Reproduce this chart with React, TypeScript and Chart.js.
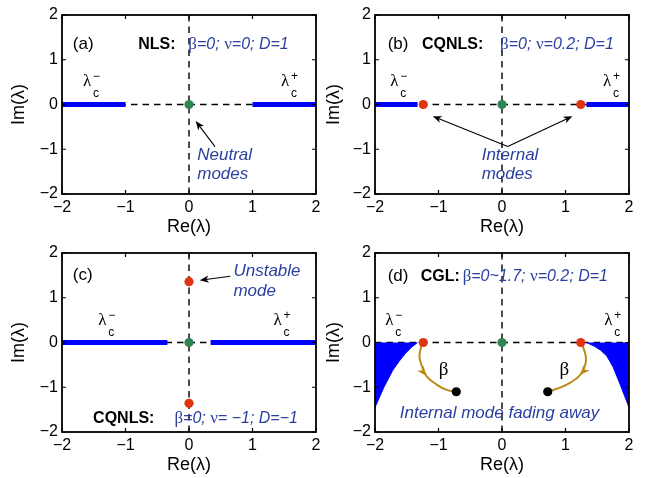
import React, { useEffect, useRef } from 'react';
import { Chart, registerables } from 'chart.js';
Chart.register(...registerables);

type P = { x: number; y: number };

// ---------- data ----------
const tickValues = [-2, -1, 0, 1, 2];
const hAxis: P[] = [{ x: -2, y: 0 }, { x: 2, y: 0 }];
const vAxis: P[] = [{ x: 0, y: -2 }, { x: 0, y: 2 }];

// (a) NLS
const aContLeft: P[] = [{ x: -2, y: 0 }, { x: -1, y: 0 }];
const aContRight: P[] = [{ x: 1, y: 0 }, { x: 2, y: 0 }];
const aNeutral: P[] = [{ x: 0, y: 0 }];

// (b) CQNLS
const bContLeft: P[] = [{ x: -2, y: 0 }, { x: -1.33, y: 0 }];
const bContRight: P[] = [{ x: 1.33, y: 0 }, { x: 2, y: 0 }];
const bInternal: P[] = [{ x: -1.24, y: 0 }, { x: 1.24, y: 0 }];
const bNeutral: P[] = [{ x: 0, y: 0 }];

// (c) CQNLS, D = -1
const cContLeft: P[] = [{ x: -2, y: 0 }, { x: -0.34, y: 0 }];
const cContRight: P[] = [{ x: 0.34, y: 0 }, { x: 2, y: 0 }];
const cUnstable: P[] = [{ x: 0, y: 1.36 }, { x: 0, y: -1.36 }];
const cNeutral: P[] = [{ x: 0, y: 0 }];

// (d) CGL
const dContLeft: P[] = [
  { x: -2, y: -1.45 }, { x: -1.86, y: -1.0 }, { x: -1.72, y: -0.62 }, { x: -1.62, y: -0.42 },
  { x: -1.52, y: -0.24 }, { x: -1.42, y: -0.1 }, { x: -1.33, y: 0 },
];
const dContRight: P[] = [
  { x: 1.33, y: 0 }, { x: 1.45, y: -0.08 }, { x: 1.55, y: -0.17 }, { x: 1.65, y: -0.3 },
  { x: 1.75, y: -0.55 }, { x: 1.85, y: -0.9 }, { x: 2, y: -1.45 },
];
const dInternalStart: P[] = [{ x: -1.24, y: 0 }, { x: 1.24, y: 0 }];
const dInternalEnd: P[] = [{ x: -0.72, y: -1.1 }, { x: 0.72, y: -1.1 }];
const dPathLeft: P[] = [
  { x: -1.27, y: -0.07 }, { x: -1.3, y: -0.31 }, { x: -1.26, y: -0.53 }, { x: -1.19, y: -0.75 },
  { x: -1.03, y: -0.94 }, { x: -0.87, y: -1.06 }, { x: -0.73, y: -1.1 },
];
const dPathRight: P[] = [
  { x: 1.27, y: -0.07 }, { x: 1.32, y: -0.31 }, { x: 1.31, y: -0.5 }, { x: 1.23, y: -0.73 },
  { x: 1.07, y: -0.9 }, { x: 0.91, y: -1.01 }, { x: 0.73, y: -1.1 },
];
const dNeutral: P[] = [{ x: 0, y: 0 }];

// ---------- styles ----------
const SANS = '"Liberation Sans", Arial, Helvetica, sans-serif';
const SERIF = '"Liberation Serif", "Times New Roman", serif';
const BLUE_T = '#2a3f9f';
const CONT = '#0000ff';
const GREEN = '#2e8554';
const RED = '#de3412';
const GOLD = '#bb8a14';

type Run = { t: string; font: string; color: string };
type Txt = { x: number; y: number; runs: Run[]; align?: 'left' | 'center' };
type Lam = { x: number; y: number; sign: string };
type Arrow = { x1: number; y1: number; x2: number; y2: number };
type Spec = { texts: Txt[]; lams: Lam[]; arrows: Arrow[]; heads: { data: P[]; i: number }[] };

const run = (t: string, font: string, color = '#000'): Run => ({ t, font, color });
function paramRuns(s: string): Run[] {
  const out: Run[] = [];
  for (const ch of Array.from(s)) {
    const g = /[βν]/.test(ch);
    const font = g ? `17px ${SERIF}` : `italic 16px ${SANS}`;
    const last = out[out.length - 1];
    if (last && last.font === font) last.t += ch;
    else out.push({ t: ch, font, color: BLUE_T });
  }
  return out;
}
const blueItalic = (t: string) => [run(t, `italic 17px ${SANS}`, BLUE_T)];

function head(ctx: CanvasRenderingContext2D, x: number, y: number, ang: number, len = 9, half = 3.6) {
  const c = Math.cos(ang), s = Math.sin(ang);
  ctx.beginPath();
  ctx.moveTo(x, y);
  ctx.lineTo(x - len * c + half * s, y - len * s - half * c);
  ctx.lineTo(x - 0.72 * len * c, y - 0.72 * len * s);
  ctx.lineTo(x - len * c - half * s, y - len * s + half * c);
  ctx.closePath();
  ctx.fill();
}

function makeDeco(spec: Spec) {
  return {
    id: 'deco',
    afterDatasetsDraw(chart: any) {
      const { ctx, chartArea: ca, scales } = chart;
      const xs = scales.x, ys = scales.y;
      const px = (v: number) => xs.getPixelForValue(v);
      const py = (v: number) => ys.getPixelForValue(v);
      ctx.save();
      // inward ticks
      ctx.strokeStyle = '#000';
      ctx.lineWidth = 1.2;
      ctx.beginPath();
      xs.ticks.forEach((t: any) => {
        const X = px(t.value);
        ctx.moveTo(X, ca.bottom); ctx.lineTo(X, ca.bottom - 4);
        ctx.moveTo(X, ca.top); ctx.lineTo(X, ca.top + 4);
      });
      ys.ticks.forEach((t: any) => {
        const Y = py(t.value);
        ctx.moveTo(ca.left, Y); ctx.lineTo(ca.left + 4, Y);
        ctx.moveTo(ca.right, Y); ctx.lineTo(ca.right - 4, Y);
      });
      ctx.stroke();
      // frame
      ctx.lineWidth = 1.8;
      ctx.strokeRect(ca.left, ca.top, ca.right - ca.left, ca.bottom - ca.top);
      // straight arrows
      ctx.fillStyle = '#000';
      ctx.strokeStyle = '#000';
      ctx.lineWidth = 1.1;
      spec.arrows.forEach((a) => {
        const x1 = px(a.x1), y1 = py(a.y1), x2 = px(a.x2), y2 = py(a.y2);
        const ang = Math.atan2(y2 - y1, x2 - x1);
        ctx.beginPath();
        ctx.moveTo(x1, y1);
        ctx.lineTo(x2 - 6 * Math.cos(ang), y2 - 6 * Math.sin(ang));
        ctx.stroke();
        head(ctx, x2, y2, ang);
      });
      // curve arrow heads
      ctx.fillStyle = GOLD;
      spec.heads.forEach((h) => {
        const a = h.data[h.i - 1], b = h.data[h.i], c = h.data[h.i + 1];
        const ang = Math.atan2(py(c.y) - py(a.y), px(c.x) - px(a.x));
        head(ctx, px(b.x), py(b.y), ang, 10, 4);
      });
      // texts
      ctx.textBaseline = 'alphabetic';
      ctx.textAlign = 'left';
      spec.texts.forEach((tx) => {
        let w = 0;
        tx.runs.forEach((r) => { ctx.font = r.font; w += ctx.measureText(r.t).width; });
        let X = px(tx.x) - (tx.align === 'center' ? w / 2 : 0);
        const Y = py(tx.y);
        tx.runs.forEach((r) => {
          ctx.font = r.font;
          ctx.fillStyle = r.color;
          ctx.fillText(r.t, X, Y);
          X += ctx.measureText(r.t).width;
        });
      });
      // lambda_c labels
      spec.lams.forEach((l) => {
        const X = px(l.x), Y = py(l.y);
        ctx.fillStyle = '#000';
        ctx.font = `17px ${SERIF}`;
        ctx.fillText('λ', X, Y);
        ctx.font = `12px ${SANS}`;
        ctx.fillText('c', X + 10, Y + 11);
        ctx.fillText(l.sign, X + 10, Y - 6);
      });
      ctx.restore();
    },
  };
}

const fmt = (v: any) => (Number(v) < 0 ? '\u2212' + Math.abs(Number(v)) : String(v));

const dashed = (data: P[]) => ({ data, borderColor: '#000', borderWidth: 1.4, borderDash: [6.5, 5], pointRadius: 0, fill: false, order: 5 });
const cont = (data: P[]) => ({ data, borderColor: CONT, borderWidth: 5, borderCapStyle: 'butt', pointRadius: 0, fill: false, order: 3 });
const area = (data: P[]) => ({ data, borderColor: CONT, backgroundColor: CONT, borderWidth: 1, pointRadius: 0, fill: 'origin', order: 4 });
const dots = (data: P[], color: string) => ({ data, showLine: false, pointRadius: 4.6, pointBackgroundColor: color, pointBorderColor: color, pointBorderWidth: 0, order: 0 });
const path = (data: P[]) => ({ data, borderColor: GOLD, borderWidth: 2, pointRadius: 0, tension: 0.4, fill: false, order: 1 });

function config(L: number, T: number, titlePad: number, datasets: any[], spec: Spec) {
  return {
    type: 'line',
    data: { datasets },
    options: {
      animation: false,
      responsive: false,
      events: [],
      layout: { padding: { left: L - 62, top: T, right: 646 - (L + 254), bottom: 478 - (T + 179) - 45 } },
      plugins: { legend: { display: false }, tooltip: { enabled: false } },
      scales: {
        x: {
          type: 'linear', min: -2, max: 2,
          afterFit: (s: any) => { s.height = 45; },
          grid: { display: false, drawTicks: false },
          border: { display: false },
          afterBuildTicks: (s: any) => { s.ticks = tickValues.map((v) => ({ value: v })); },
          ticks: { padding: 4, color: '#000', font: { family: SANS, size: 16 }, callback: fmt },
          title: { display: true, text: 'Re(λ)', color: '#000', font: { family: SANS, size: 18 }, padding: { top: 0, bottom: 1.5 } },
        },
        y: {
          type: 'linear', min: -2, max: 2,
          afterFit: (s: any) => { s.width = 62; },
          grid: { display: false, drawTicks: false },
          border: { display: false },
          afterBuildTicks: (s: any) => { s.ticks = tickValues.map((v) => ({ value: v })); },
          ticks: { padding: 4, color: '#000', font: { family: SANS, size: 16 }, callback: fmt },
          title: { display: true, text: 'Im(λ)', color: '#000', font: { family: SANS, size: 18 }, padding: { top: titlePad, bottom: 0 } },
        },
      },
    },
    plugins: [makeDeco(spec)],
  } as any;
}

const bold = (t: string) => run(t, `bold 16px ${SANS}`);
const plain = (t: string) => run(t, `17px ${SANS}`);

function configs() {
  const a = config(62, 15, 8, [
    dots(aNeutral, GREEN), cont(aContLeft), cont(aContRight), dashed(hAxis), dashed(vAxis),
  ], {
    texts: [
      { x: -1.83, y: 1.25, runs: [plain('(a)')] },
      { x: -0.8, y: 1.25, runs: [bold('NLS:')] },
      { x: -0.01, y: 1.25, runs: paramRuns('β=0; ν=0; D=1') },
      { x: 0.13, y: -1.24, runs: blueItalic('Neutral') },
      { x: 0.13, y: -1.67, runs: blueItalic('modes') },
    ],
    lams: [{ x: -1.67, y: 0.41, sign: '\u2212' }, { x: 1.45, y: 0.41, sign: '+' }],
    arrows: [{ x1: 0.41, y1: -0.94, x2: 0.105, y2: -0.37 }],
    heads: [],
  });
  const b = config(375, 15, 10.5, [
    dots(bInternal, RED), dots(bNeutral, GREEN), cont(bContLeft), cont(bContRight), dashed(hAxis), dashed(vAxis),
  ], {
    texts: [
      { x: -1.8, y: 1.25, runs: [plain('(b)')] },
      { x: -1.26, y: 1.25, runs: [bold('CQNLS:')] },
      { x: -0.03, y: 1.25, runs: paramRuns('β=0; ν=0.2; D=1') },
      { x: -0.32, y: -1.24, runs: blueItalic('Internal') },
      { x: -0.32, y: -1.67, runs: blueItalic('modes') },
    ],
    lams: [{ x: -1.76, y: 0.41, sign: '\u2212' }, { x: 1.59, y: 0.41, sign: '+' }],
    arrows: [
      { x1: 0.09, y1: -0.94, x2: -1.09, y2: -0.26 },
      { x1: 0.09, y1: -0.94, x2: 1.11, y2: -0.26 },
    ],
    heads: [],
  });
  const c = config(62, 253, 8, [
    dots(cUnstable, RED), dots(cNeutral, GREEN), cont(cContLeft), cont(cContRight), dashed(hAxis), dashed(vAxis),
  ], {
    texts: [
      { x: -1.83, y: 1.4, runs: [plain('(c)')] },
      { x: 0.7, y: 1.48, runs: blueItalic('Unstable') },
      { x: 0.7, y: 1.05, runs: blueItalic('mode') },
      { x: -1.51, y: -1.8, runs: [bold('CQNLS:')] },
      { x: -0.23, y: -1.8, runs: paramRuns('β=0; ν= \u22121; D=\u22121') },
    ],
    lams: [{ x: -1.43, y: 0.39, sign: '\u2212' }, { x: 1.33, y: 0.39, sign: '+' }],
    arrows: [{ x1: 0.65, y1: 1.48, x2: 0.17, y2: 1.39 }],
    heads: [],
  });
  const d = config(375, 253, 10.5, [
    dots(dInternalStart, RED), dots(dInternalEnd, '#000'), dots(dNeutral, GREEN),
    path(dPathLeft), path(dPathRight), area(dContLeft), area(dContRight), dashed(hAxis), dashed(vAxis),
  ], {
    texts: [
      { x: -1.8, y: 1.38, runs: [plain('(d)')] },
      { x: -1.28, y: 1.38, runs: [bold('CGL:')] },
      { x: -0.62, y: 1.38, runs: paramRuns('β=0~1.7; ν=0.2; D=1') },
      { x: -0.92, y: -0.72, runs: [run('β', `19px ${SERIF}`)], align: 'center' },
      { x: 0.98, y: -0.72, runs: [run('β', `19px ${SERIF}`)], align: 'center' },
      { x: -0.04, y: -1.69, runs: blueItalic('Internal mode fading away'), align: 'center' },
    ],
    lams: [{ x: -1.84, y: 0.39, sign: '\u2212' }, { x: 1.61, y: 0.39, sign: '+' }],
    arrows: [],
    heads: [{ data: dPathLeft, i: 3 }, { data: dPathRight, i: 3 }],
  });
  return [a, b, c, d];
}

export default function App() {
  const r0 = useRef<HTMLCanvasElement>(null);
  const r1 = useRef<HTMLCanvasElement>(null);
  const r2 = useRef<HTMLCanvasElement>(null);
  const r3 = useRef<HTMLCanvasElement>(null);
  const refs = [r0, r1, r2, r3];
  useEffect(() => {
    const cfgs = configs();
    const charts = refs.map((r, i) => new Chart(r.current as HTMLCanvasElement, cfgs[i]));
    return () => charts.forEach((ch) => ch.destroy());
  }, []);
  return (
    <div style={{ position: 'absolute', left: 0, top: 0, width: 646, height: 478, background: '#fff' }}>
      {refs.map((r, i) => (
        <canvas key={i} ref={r} width={646} height={478}
          style={{ position: 'absolute', left: 0, top: 0, width: 646, height: 478 }} />
      ))}
    </div>
  );
}
